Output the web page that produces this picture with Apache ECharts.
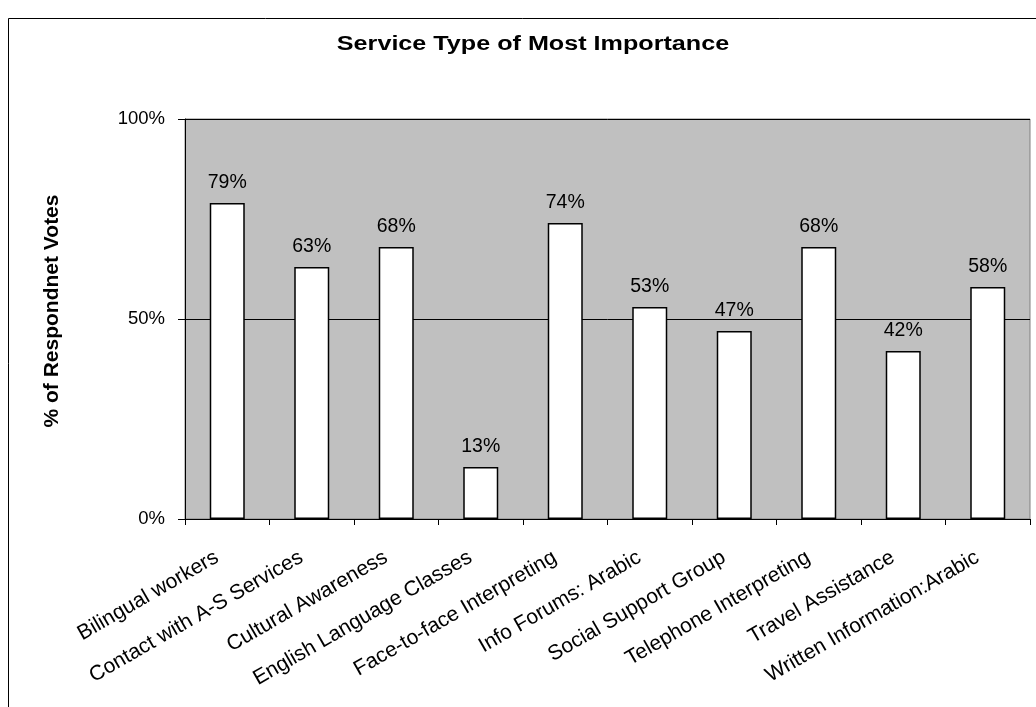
<!DOCTYPE html>
<html>
<head>
<meta charset="utf-8">
<script src="https://cdn.jsdelivr.net/npm/echarts@6/dist/echarts.min.js"></script>
<style>html,body{margin:0;padding:0;background:#fff;}#c{width:1036px;height:707px;}</style>
</head>
<body>
<div id="c"></div>
<script>
const categories = ["Bilingual workers","Contact with A-S Services","Cultural Awareness","English Language Classes","Face-to-face Interpreting","Info Forums: Arabic","Social Support Group","Telephone Interpreting","Travel Assistance","Written Information:Arabic"];
const values = [79, 63, 68, 13, 74, 53, 47, 68, 42, 58];
const yTicks = [0, 50, 100];
const titleText = 'Service Type of Most Importance';
const yName = '% of Respondnet Votes';

const chart = echarts.init(document.getElementById('c'), null, {renderer: 'canvas'});
const font = '"Liberation Sans", Arial, sans-serif';
chart.setOption({
  animation: false,
  backgroundColor: '#fff',
  graphic: [{
    type: 'rect', z: -1, silent: true,
    shape: {x: 8.5, y: 18.5, width: 1100, height: 800},
    style: {fill: 'none', stroke: '#000', lineWidth: 1}
  }, {
    type: 'text', x: 533, y: 45, scaleX: 1.29, silent: true,
    style: {text: titleText, font: 'bold 19.5px "Liberation Sans", Arial, sans-serif', fill: '#000', align: 'center', verticalAlign: 'middle'}
  }],
  grid: {
    left: 185, right: 6, top: 119, bottom: 188,
    show: true, backgroundColor: '#c0c0c0', borderColor: '#808080', borderWidth: 1
  },
  xAxis: {
    type: 'category', data: categories,
    axisLine: {lineStyle: {color: '#000', width: 1}},
    axisTick: {show: true, length: 6, lineStyle: {color: '#000'}},
    axisLabel: {rotate: 30, interval: 0, margin: 31, padding: [0, 12, 0, 0], fontFamily: font, fontSize: 21, color: '#000'}
  },
  yAxis: {
    type: 'value', min: yTicks[0], max: yTicks[yTicks.length - 1], interval: 50,
    name: yName, nameLocation: 'middle', nameGap: 122, nameRotate: 90,
    nameTextStyle: {fontFamily: font, fontSize: 21, fontWeight: 'bold', color: '#000', padding: [0, 0, 0, 16]},
    axisLine: {show: true, lineStyle: {color: '#000', width: 1}},
    axisTick: {show: true, length: 7, lineStyle: {color: '#000'}},
    axisLabel: {formatter: '{value}%', margin: 20, fontFamily: font, fontSize: 18.5, color: '#000'},
    splitLine: {show: true, lineStyle: {color: '#000', width: 1}}
  },
  series: [{
    type: 'bar', data: values, barWidth: 35,
    itemStyle: {color: '#fff', borderColor: '#000', borderWidth: 1.5},
    label: {show: true, position: 'top', distance: 10, formatter: '{c}%', fontFamily: font, fontSize: 19.5, color: '#000'}
  }]
});
</script>
</body>
</html>
